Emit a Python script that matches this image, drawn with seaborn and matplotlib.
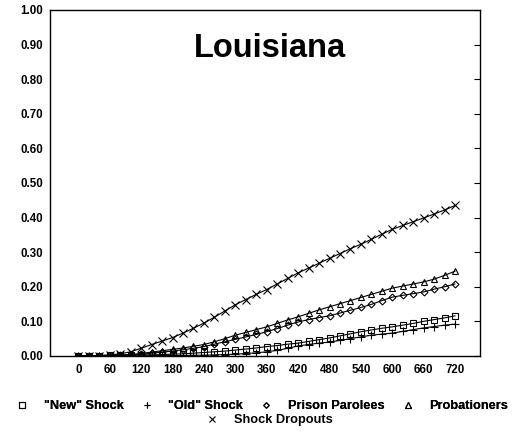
import numpy as np
import pandas as pd
import matplotlib
matplotlib.use("Agg")
import matplotlib.pyplot as plt
from matplotlib.lines import Line2D
import seaborn as sns

# days since release, one reading every 20 days
days = list(range(0, 721, 20))

new_shock = [0.000, 0.001, 0.001, 0.002, 0.002, 0.002, 0.003, 0.003, 0.004, 0.005,
             0.006, 0.008, 0.010, 0.012, 0.014, 0.017, 0.020, 0.023, 0.027, 0.030,
             0.034, 0.037, 0.042, 0.047, 0.052, 0.058, 0.064, 0.070, 0.075, 0.080,
             0.084, 0.089, 0.094, 0.100, 0.105, 0.110, 0.116]
old_shock = [0.000, 0.000, 0.000, 0.000, 0.000, 0.000, 0.000, 0.001, 0.001, 0.001,
             0.001, 0.002, 0.002, 0.003, 0.004, 0.005, 0.007, 0.009, 0.012, 0.016,
             0.022, 0.029, 0.033, 0.037, 0.040, 0.045, 0.050, 0.055, 0.060, 0.063,
             0.066, 0.071, 0.076, 0.081, 0.085, 0.089, 0.092]
parolees = [0.000, 0.000, 0.000, 0.001, 0.002, 0.003, 0.005, 0.008, 0.011, 0.014,
            0.018, 0.022, 0.027, 0.034, 0.041, 0.048, 0.055, 0.062, 0.070, 0.079,
            0.089, 0.098, 0.105, 0.111, 0.116, 0.124, 0.132, 0.140, 0.149, 0.160,
            0.170, 0.175, 0.180, 0.185, 0.193, 0.200, 0.208]
probationers = [0.000, 0.000, 0.000, 0.001, 0.002, 0.004, 0.007, 0.011, 0.015, 0.019,
                0.023, 0.028, 0.033, 0.041, 0.050, 0.060, 0.068, 0.076, 0.084, 0.094,
                0.104, 0.113, 0.123, 0.133, 0.142, 0.151, 0.160, 0.169, 0.178, 0.187,
                0.196, 0.202, 0.208, 0.214, 0.222, 0.233, 0.245]
dropouts = [0.000, 0.000, 0.001, 0.003, 0.006, 0.012, 0.022, 0.033, 0.043, 0.053,
            0.066, 0.080, 0.095, 0.112, 0.130, 0.148, 0.163, 0.178, 0.192, 0.208,
            0.224, 0.240, 0.254, 0.268, 0.282, 0.296, 0.310, 0.323, 0.337, 0.352,
            0.366, 0.377, 0.388, 0.399, 0.410, 0.422, 0.435]

labels = ['"New" Shock', '"Old" Shock', "Prison Parolees", "Probationers", "Shock Dropouts"]
markers = ["s", "+", "D", "^", "x"]
msizes = [5, 6, 3.5, 5, 6]
series = [new_shock, old_shock, parolees, probationers, dropouts]

x_ticks = list(range(0, 721, 60))
y_ticks = [i / 10 for i in range(11)]

sns.set_style("white")
plt.rcParams["font.family"] = ["Liberation Sans", "DejaVu Sans"]
plt.rcParams["font.weight"] = "bold"
plt.rcParams["text.color"] = "black"

fig = plt.figure(figsize=(5.22, 4.33), dpi=100)
ax = fig.add_axes([0.096, 0.178, 0.824, 0.799])

for vals, lab, mk, ms in zip(series, labels, markers, msizes):
    df = pd.DataFrame({"day": days, "rate": vals})
    sns.lineplot(data=df, x="day", y="rate", ax=ax, color="black", linewidth=0.8,
                 marker=mk, markersize=ms, markerfacecolor="none",
                 markeredgecolor="black", markeredgewidth=0.8, legend=False)

ax.set_xlim(-54, 768)
ax.set_ylim(0, 1)
ax.set_xticks(x_ticks)
ax.set_yticks(y_ticks)
ax.set_yticklabels([f"{v:.2f}" for v in y_ticks])
ax.tick_params(direction="in", length=4, width=0.8, labelsize=8.3, colors="black",
               right=True)
ax.tick_params(axis="x", pad=6)
ax.tick_params(axis="y", pad=5)
ax.set_xlabel("")
ax.set_ylabel("")
for sp in ax.spines.values():
    sp.set_color("black")
    sp.set_linewidth(1.0)

ax.text(0.51, 0.89, "Louisiana", transform=ax.transAxes, ha="center", va="center",
        fontsize=23.5, fontweight="bold", color="black")

def handle(mk, ms):
    return Line2D([], [], linestyle="none", marker=mk, markersize=ms,
                  markerfacecolor="none", markeredgecolor="black", markeredgewidth=0.8)

h = [handle(m, s * 0.8) for m, s in zip(markers, msizes)]
leg1 = fig.legend(h[:4], labels[:4], loc="center", bbox_to_anchor=(0.502, 0.062), ncol=4,
                  frameon=False, fontsize=9.2, handlelength=1.0, handletextpad=1.2,
                  columnspacing=1.3)
fig.add_artist(leg1)
fig.legend(h[4:], labels[4:], loc="center", bbox_to_anchor=(0.515, 0.030), ncol=1,
           frameon=False, fontsize=9.2, handlelength=1.0, handletextpad=1.2)

fig.savefig("out.png", dpi=100)
